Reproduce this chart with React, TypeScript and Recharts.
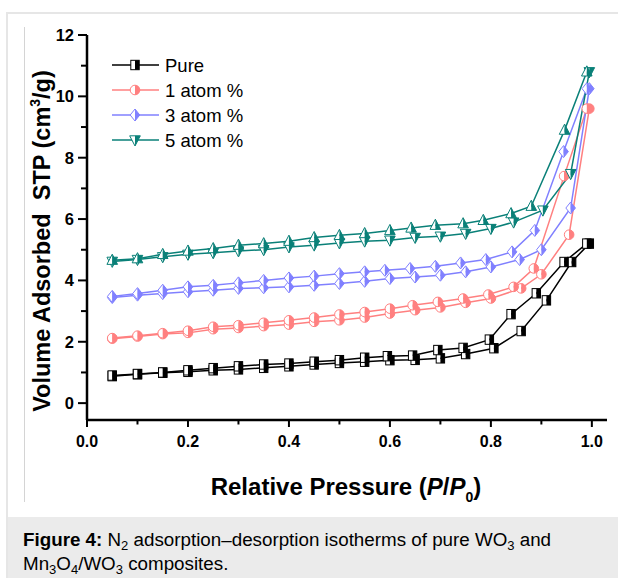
import React from 'react';
import { ComposedChart, Line, XAxis, YAxis, Legend } from 'recharts';

// ---------- data ----------
const lowP = [0.05, 0.1, 0.15, 0.2, 0.25, 0.3, 0.35, 0.4, 0.45, 0.5, 0.55];

const pureAdsP = [...lowP, 0.6, 0.65, 0.7, 0.75, 0.806, 0.86, 0.91, 0.96, 0.995];
const pureAdsV = [0.88, 0.94, 0.99, 1.02, 1.07, 1.1, 1.15, 1.2, 1.26, 1.31, 1.35, 1.4, 1.41, 1.46, 1.6, 1.79, 2.35, 3.35, 4.6, 5.2];
const pureDesP = [...lowP, 0.595, 0.645, 0.695, 0.745, 0.797, 0.84, 0.89, 0.945, 0.99];
const pureDesV = [0.9, 0.95, 1.0, 1.07, 1.14, 1.2, 1.26, 1.29, 1.35, 1.4, 1.48, 1.53, 1.55, 1.73, 1.8, 2.07, 2.9, 3.58, 4.6, 5.2];

const oneAdsP = [...lowP, 0.6, 0.65, 0.7, 0.75, 0.8, 0.86, 0.9, 0.955, 0.995];
const oneAdsV = [2.1, 2.17, 2.25, 2.29, 2.41, 2.45, 2.51, 2.56, 2.65, 2.7, 2.79, 2.92, 3.03, 3.12, 3.27, 3.41, 3.74, 4.2, 5.49, 9.6];
const oneDesP = [...lowP, 0.6, 0.645, 0.695, 0.745, 0.795, 0.845, 0.885, 0.945, 0.99];
const oneDesV = [2.12, 2.2, 2.28, 2.36, 2.49, 2.54, 2.62, 2.7, 2.79, 2.89, 2.97, 3.08, 3.19, 3.3, 3.41, 3.54, 3.79, 4.39, 7.4, 9.6];

const threeAdsP = [...lowP, 0.6, 0.65, 0.7, 0.75, 0.8, 0.857, 0.9, 0.958, 0.995];
const threeAdsV = [3.44, 3.52, 3.57, 3.63, 3.68, 3.74, 3.76, 3.79, 3.84, 3.9, 3.97, 4.06, 4.11, 4.17, 4.28, 4.44, 4.68, 5.0, 6.36, 10.25];
const threeDesP = [...lowP, 0.59, 0.64, 0.69, 0.74, 0.79, 0.842, 0.887, 0.944, 0.99];
const threeDesV = [3.48, 3.57, 3.68, 3.79, 3.84, 3.92, 4.0, 4.08, 4.14, 4.22, 4.28, 4.33, 4.39, 4.46, 4.57, 4.68, 4.93, 5.63, 8.2, 10.25];

const fiveAdsP = [...lowP, 0.6, 0.65, 0.7, 0.75, 0.8, 0.845, 0.903, 0.958, 0.995];
const fiveAdsV = [4.62, 4.68, 4.77, 4.85, 4.9, 4.96, 5.0, 5.09, 5.15, 5.22, 5.28, 5.31, 5.4, 5.44, 5.53, 5.69, 5.9, 6.29, 7.48, 10.8];
const fiveDesP = [...lowP, 0.6, 0.642, 0.69, 0.745, 0.785, 0.84, 0.88, 0.946, 0.99];
const fiveDesV = [4.66, 4.71, 4.85, 4.96, 5.04, 5.15, 5.2, 5.28, 5.4, 5.47, 5.53, 5.63, 5.71, 5.8, 5.85, 5.96, 6.18, 6.42, 8.9, 10.8];

const seriesNames = ['Pure', '1 atom %', '3 atom %', '5 atom %'];
const xTicks = [0, 0.1, 0.2, 0.3, 0.4, 0.5, 0.6, 0.7, 0.8, 0.9, 1.0];
const yTicks = [0, 1, 2, 3, 4, 5, 6, 7, 8, 9, 10, 11, 12];

// ---------- styling ----------
const FONT = "Arial, 'Liberation Sans', Helvetica, sans-serif";
const COLORS = ['#000000', '#ff8080', '#8080ff', '#0a8078'];

const zip = (p: number[], v: number[]) => p.map((x, i) => ({ p: x, v: v[i] }));

type Shape = 'square' | 'circle' | 'diamond' | 'triUp' | 'triDown';

function marker(shape: Shape, color: string, cx: number, cy: number, key?: string) {
  const sw = 1;
  if (shape === 'square') {
    const w = 4.2, h = 4.7;
    return (
      <g key={key}>
        <rect x={cx - w} y={cy - h} width={w} height={2 * h} fill="#fff" />
        <rect x={cx} y={cy - h} width={w} height={2 * h} fill={color} />
        <rect x={cx - w} y={cy - h} width={2 * w} height={2 * h} fill="none" stroke={color} strokeWidth={sw} />
      </g>
    );
  }
  if (shape === 'circle') {
    const r = 4.8;
    return (
      <g key={key}>
        <path d={`M${cx},${cy - r} A${r},${r} 0 0 0 ${cx},${cy + r} Z`} fill="#fff" />
        <path d={`M${cx},${cy - r} A${r},${r} 0 0 1 ${cx},${cy + r} Z`} fill={color} />
        <circle cx={cx} cy={cy} r={r} fill="none" stroke={color} strokeWidth={sw} />
      </g>
    );
  }
  if (shape === 'diamond') {
    const w = 4.8, h = 6;
    return (
      <g key={key}>
        <polygon points={`${cx},${cy - h} ${cx - w},${cy} ${cx},${cy + h}`} fill="#fff" />
        <polygon points={`${cx},${cy - h} ${cx + w},${cy} ${cx},${cy + h}`} fill={color} />
        <polygon points={`${cx},${cy - h} ${cx - w},${cy} ${cx},${cy + h} ${cx + w},${cy}`} fill="none" stroke={color} strokeWidth={sw} />
      </g>
    );
  }
  const up = shape === 'triUp';
  const a = up ? cy - 6 : cy + 6;
  const b = up ? cy + 4.2 : cy - 4.2;
  const w = 5.3;
  return (
    <g key={key}>
      <polygon points={`${cx},${a} ${cx - w},${b} ${cx},${b}`} fill="#fff" />
      <polygon points={`${cx},${a} ${cx + w},${b} ${cx},${b}`} fill={color} />
      <polygon points={`${cx},${a} ${cx - w},${b} ${cx + w},${b}`} fill="none" stroke={color} strokeWidth={sw} />
    </g>
  );
}

const makeDot = (shape: Shape, color: string, id: string) => (props: any) => {
  const { cx, cy, index } = props;
  if (cx == null || cy == null) return <g key={`${id}-${index}`} />;
  return marker(shape, color, cx, cy, `${id}-${index}`);
};

const branches = [
  { id: 'pa', data: zip(pureAdsP, pureAdsV), color: COLORS[0], shape: 'square' as Shape },
  { id: 'pd', data: zip(pureDesP, pureDesV), color: COLORS[0], shape: 'square' as Shape },
  { id: 'oa', data: zip(oneAdsP, oneAdsV), color: COLORS[1], shape: 'circle' as Shape },
  { id: 'od', data: zip(oneDesP, oneDesV), color: COLORS[1], shape: 'circle' as Shape },
  { id: 'ta', data: zip(threeAdsP, threeAdsV), color: COLORS[2], shape: 'diamond' as Shape },
  { id: 'td', data: zip(threeDesP, threeDesV), color: COLORS[2], shape: 'diamond' as Shape },
  { id: 'fa', data: zip(fiveAdsP, fiveAdsV), color: COLORS[3], shape: 'triDown' as Shape },
  { id: 'fd', data: zip(fiveDesP, fiveDesV), color: COLORS[3], shape: 'triUp' as Shape },
];

const legendShapes: Shape[] = ['square', 'circle', 'diamond', 'triDown'];

const renderLegend = () => (
  <svg width={200} height={100} style={{ display: 'block' }}>
    {seriesNames.map((name, i) => {
      const y = 13 + i * 25;
      return (
        <g key={name}>
          <line x1={7} x2={54} y1={y} y2={y} stroke={COLORS[i]} strokeWidth={1.5} />
          {marker(legendShapes[i], COLORS[i], 30, y)}
          <text x={60} y={y + 6.5} fontFamily={FONT} fontSize={18.5} fill="#000">{name}</text>
        </g>
      );
    })}
  </svg>
);

// tick marks + labels drawn together (tickSize 0 / tickMargin 0 -> x,y = point on the axis)
const XTick = (props: any) => {
  const { x, y, payload } = props;
  const v = payload.value as number;
  const major = Math.round(v * 10) % 2 === 0;
  return (
    <g>
      <line x1={x} x2={x} y1={y} y2={y + (major ? 7 : 4.5)} stroke="#000" strokeWidth={2} />
      {major && (
        <text x={x} y={y + 26.5} textAnchor="middle" fontFamily={FONT} fontSize={16} fontWeight="bold" fill="#000">
          {v.toFixed(1)}
        </text>
      )}
    </g>
  );
};

const YTick = (props: any) => {
  const { x, y, payload } = props;
  const v = payload.value as number;
  const major = v % 2 === 0;
  return (
    <g>
      <line x1={x} x2={x - (major ? 9 : 6)} y1={y} y2={y} stroke="#000" strokeWidth={2} />
      {major && (
        <text x={x - 13} y={y} dy="0.36em" textAnchor="end" fontFamily={FONT} fontSize={16.5} fontWeight="bold" fill="#000">
          {v}
        </text>
      )}
    </g>
  );
};

const subStyle: React.CSSProperties = { fontSize: 13, verticalAlign: 'baseline', position: 'relative', top: 4 };

export default function App() {
  return (
    <div style={{ position: 'absolute', left: 0, top: 0, width: 618, height: 578, overflow: 'hidden', background: '#fff' }}>
      {/* page frame */}
      <div style={{ position: 'absolute', left: 6, top: 12, width: 700, height: 700, border: '2px solid #e6e6e6', boxSizing: 'border-box' }} />
      <div style={{ position: 'absolute', left: 24, top: 27, width: 1, height: 475, background: '#d4d4d4' }} />
      <div style={{ position: 'absolute', left: 8, top: 517, width: 700, height: 100, background: '#ebebeb' }} />
      <div style={{ position: 'absolute', left: 23, top: 529, width: 595, fontFamily: FONT, fontSize: 18.8, lineHeight: '22px', color: '#000', whiteSpace: 'nowrap' }}>
        <b>Figure 4:</b> N<sub style={subStyle}>2</sub> adsorption–desorption isotherms of pure WO
        <sub style={subStyle}>3</sub> and<br />
        Mn<sub style={subStyle}>3</sub>O
        <sub style={subStyle}>4</sub>/WO
        <sub style={subStyle}>3</sub> composites.
      </div>

      <div style={{ position: 'absolute', left: 0, top: 0 }}>
        <ComposedChart width={618} height={520} margin={{ top: 35, right: 11, left: 0, bottom: 70 }}>
          <XAxis
            xAxisId="x"
            dataKey="p"
            type="number"
            domain={[0, 1.03]}
            ticks={xTicks}
            interval={0}
            height={30}
            axisLine={{ stroke: '#000', strokeWidth: 2.5 }}
            tickLine={false}
            tickSize={0}
            tickMargin={0}
            tick={<XTick />}
            allowDataOverflow
          />
          <XAxis
            xAxisId="top"
            orientation="top"
            type="number"
            domain={[0, 1.03]}
            height={0}
            tick={false}
            tickLine={false}
            axisLine={{ stroke: '#000', strokeWidth: 2.5 }}
          />
          <YAxis
            yAxisId="y"
            type="number"
            domain={[-0.55, 12]}
            ticks={yTicks}
            interval={0}
            width={87}
            axisLine={{ stroke: '#000', strokeWidth: 2.5 }}
            tickLine={false}
            tickSize={0}
            tickMargin={0}
            tick={<YTick />}
            allowDataOverflow
          />
          <YAxis
            yAxisId="right"
            orientation="right"
            type="number"
            domain={[-0.55, 12]}
            width={0}
            tick={false}
            tickLine={false}
            axisLine={{ stroke: '#000', strokeWidth: 2.5 }}
          />
          <Legend
            layout="vertical"
            align="center"
            verticalAlign="middle"
            content={renderLegend}
            wrapperStyle={{ position: 'absolute', left: 105, top: 52, width: 200, height: 100 }}
          />
          {branches.map((b) => (
            <Line
              key={b.id}
              xAxisId="x"
              yAxisId="y"
              data={b.data}
              dataKey="v"
              type="linear"
              stroke={b.color}
              strokeWidth={1.5}
              dot={makeDot(b.shape, b.color, b.id)}
              activeDot={false}
              isAnimationActive={false}
              legendType="none"
            />
          ))}
        </ComposedChart>
      </div>

      {/* axis titles */}
      <svg width={618} height={578} style={{ position: 'absolute', left: 0, top: 0, pointerEvents: 'none' }}>
        <text
          x={50}
          y={241}
          transform="rotate(-90 50 241)"
          textAnchor="middle"
          fontFamily={FONT}
          fontSize={23.5}
          fontWeight="bold"
          fill="#000"
          style={{ whiteSpace: 'pre' }}
        >
          {'Volume Adsorbed  STP (cm'}
          <tspan fontSize={14} dy={-10}>3</tspan>
          <tspan dy={10}>/g)</tspan>
        </text>
        <text x={346} y={495} textAnchor="middle" fontFamily={FONT} fontSize={24} fontWeight="bold" fill="#000">
          {'Relative Pressure ('}
          <tspan fontStyle="italic">P</tspan>
          /
          <tspan fontStyle="italic">P</tspan>
          <tspan fontSize={14} dy={7}>0</tspan>
          <tspan dy={-7}>)</tspan>
        </text>
      </svg>
    </div>
  );
}
